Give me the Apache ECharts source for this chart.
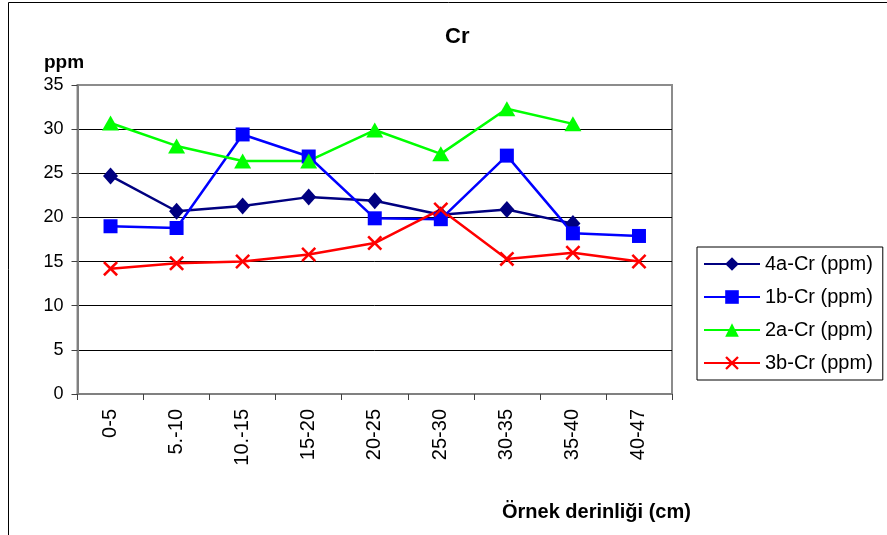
<!DOCTYPE html>
<html>
<head>
<meta charset="utf-8">
<script src="https://cdn.jsdelivr.net/npm/echarts@6/dist/echarts.min.js"></script>
<style>
html,body{margin:0;padding:0;background:#fff;}
#c{width:887px;height:535px;}
</style>
</head>
<body>
<div id="c"></div>
<script>
const categories = ['0-5', '5.-10', '10.-15', '15-20', '20-25', '25-30', '30-35', '35-40', '40-47'];
const yTicks = [0, 5, 10, 15, 20, 25, 30, 35];
const s4a = [24.7, 20.7, 21.3, 22.3, 21.9, 20.3, 20.9, 19.3, null];
const s1b = [19.0, 18.8, 29.4, 26.9, 19.9, 19.8, 27.0, 18.2, 17.9];
const s2a = [30.7, 28.1, 26.4, 26.4, 29.9, 27.2, 32.3, 30.6, null];
const s3b = [14.2, 14.8, 15.0, 15.8, 17.1, 20.9, 15.3, 16.0, 15.0];
const names = ['4a-Cr (ppm)', '1b-Cr (ppm)', '2a-Cr (ppm)', '3b-Cr (ppm)'];

const FONT = 'Liberation Sans, Arial, sans-serif';
const xMark = 'path://M0,1.2 L1.2,0 L5,3.8 L8.8,0 L10,1.2 L6.2,5 L10,8.8 L8.8,10 L5,6.2 L1.2,10 L0,8.8 L3.8,5 Z';

function mk(name, data, color, symbol, size) {
  return {
    name: name, type: 'line', data: data,
    symbol: symbol, symbolSize: size,
    connectNulls: false,
    lineStyle: {color: color, width: 2.5},
    itemStyle: {color: color},
    emphasis: {disabled: true},
    animation: false
  };
}

const chart = echarts.init(document.getElementById('c'), null, {renderer: 'canvas'});
chart.setOption({
  animation: false,
  backgroundColor: '#fff',
  textStyle: {fontFamily: FONT},
  title: [
    {text: 'Cr', left: 440, top: 21, textStyle: {fontFamily: FONT, fontSize: 22, fontWeight: 'bold', color: '#000'}},
    {text: 'ppm', left: 39, top: 48, textStyle: {fontFamily: FONT, fontSize: 19, fontWeight: 'bold', color: '#000'}},
    {text: 'Örnek derinliği (cm)', left: 497, top: 497, textStyle: {fontFamily: FONT, fontSize: 20, fontWeight: 'bold', color: '#000'}}
  ],
  graphic: [
    {type: 'rect', shape: {x: 8.5, y: 2.5, width: 1000, height: 1000}, style: {fill: 'none', stroke: '#000', lineWidth: 1}, silent: true}
  ],
  grid: {left: 77.5, right: 215, top: 85, bottom: 141, show: true, borderColor: '#8c8c8c', borderWidth: 2, backgroundColor: 'transparent'},
  legend: {
    orient: 'vertical', left: 697, top: 247,
    padding: [7, 10, 7, 6],
    itemWidth: 56, itemHeight: 17, itemGap: 13,
    borderColor: '#000', borderWidth: 1,
    textStyle: {fontFamily: FONT, fontSize: 20, color: '#000'},
    data: names
  },
  xAxis: {
    type: 'category', data: categories, boundaryGap: true,
    axisLine: {lineStyle: {color: '#808080', width: 2}},
    axisTick: {show: true, length: 6, lineStyle: {color: '#404040', width: 1}},
    axisLabel: {rotate: 90, margin: 15, fontSize: 20, color: '#000', fontFamily: FONT, interval: 0},
    splitLine: {show: false}
  },
  yAxis: {
    type: 'value', min: yTicks[0], max: yTicks[yTicks.length - 1], interval: 5,
    axisLine: {show: true, lineStyle: {color: '#808080', width: 2}},
    axisTick: {show: true, length: 6, lineStyle: {color: '#404040', width: 1}},
    axisLabel: {margin: 14, fontSize: 18, color: '#000', fontFamily: FONT},
    splitLine: {show: true, showMinLine: false, showMaxLine: false, lineStyle: {color: '#000', width: 1}}
  },
  series: [
    mk(names[0], s4a, '#000080', 'diamond', [15, 17]),
    mk(names[1], s1b, '#0000ff', 'rect', 14),
    mk(names[2], s2a, '#00ff00', 'triangle', [17, 15]),
    mk(names[3], s3b, '#ff0000', xMark, 15)
  ]
});
</script>
</body>
</html>
